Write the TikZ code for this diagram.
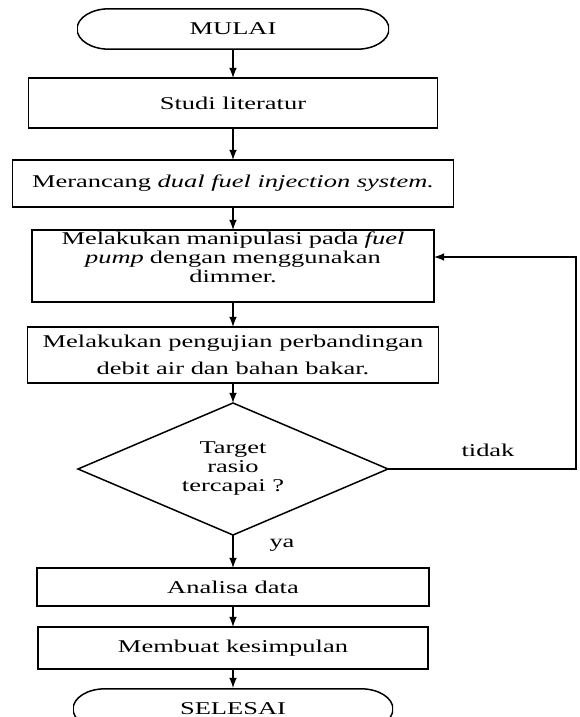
\documentclass[tikz,border=0pt]{standalone}
\usepackage{fontspec}
\setmainfont[FakeStretch=1.47]{Liberation Serif}
\usetikzlibrary{shapes.geometric,positioning}
\tikzstyle{term} = [rectangle, minimum height=21pt, inner sep=0pt, outer sep=0pt,
	path picture={\draw ([xshift=16pt,yshift=-0.4pt]path picture bounding box.north west)
		-- ([xshift=-16pt,yshift=-0.4pt]path picture bounding box.north east)
		arc[start angle=90, end angle=-90, x radius=16pt, y radius=10.1pt]
		-- ([xshift=16pt,yshift=0.4pt]path picture bounding box.south west)
		arc[start angle=270, end angle=90, x radius=16pt, y radius=10.1pt] -- cycle;}]
\tikzstyle{proc} = [draw, rectangle, align=center, inner sep=1pt, outer sep=0pt]
\tikzstyle{dec} = [draw, diamond, aspect=2.35, align=center, inner sep=0pt, outer sep=0pt,
	minimum width=155pt, minimum height=66pt]
\tikzstyle{line} = [draw, -latex]

\begin{document}
\begin{tikzpicture}[x=0.5pt, y=-0.5pt, line width=0.75pt, font=\fontsize{9}{9.5}\selectfont]
	\useasboundingbox (0,0) rectangle (579,717);
	\node[term, minimum width=156pt] (mulai) at (233,29) {MULAI};
	\node[proc, below=14pt of mulai, minimum width=204.5pt, minimum height=25pt] (studi) {Studi literatur};
	\node[proc, below=16pt of studi, minimum width=220.5pt, minimum height=23.5pt] (rancang)
		{Merancang \textit{dual fuel injection system.}};
	\node[proc, below=11.5pt of rancang, text width=199pt, text height=6pt, text depth=28pt] (manip)
		{Melakukan manipulasi pada \textit{fuel}\\ \textit{pump} dengan menggunakan\\ dimmer.};
	\node[proc, below=12.5pt of manip, minimum width=205.5pt, minimum height=28pt] (uji)
		{Melakukan pengujian perbandingan\\[4pt] debit air dan bahan bakar.};
	\node[dec, below=10pt of uji] (cek) {Target\\ rasio\\ tercapai ?};
	\node[proc, below=16.5pt of cek, minimum width=196pt, minimum height=19pt] (analisa) {Analisa data};
	\node[proc, below=10.5pt of analisa, minimum width=195pt, minimum height=21pt] (simpul) {Membuat kesimpulan};
	\node[term, below=9.5pt of simpul, minimum width=160pt] (selesai) {SELESAI};
	\coordinate[right=94pt of cek.east] (balik);
	\node (tidak) at (488,450) {tidak};
	\node (ya) at (282,545) {ya};
	% alur utama
	\path[line] (mulai) -- (studi);
	\path[line] (studi) -- (rancang);
	\path[line] (rancang) -- (manip);
	\path[line] (manip) -- (uji);
	\path[line] (uji) -- (cek);
	\path[line] (cek) -- (analisa);
	\path[line] (analisa) -- (simpul);
	\path[line] (simpul) -- (selesai);
	% kembali jika tidak
	\path[line] (cek.east) -- (balik) |- ([yshift=4.5pt]manip.east);
\end{tikzpicture}
\end{document}
